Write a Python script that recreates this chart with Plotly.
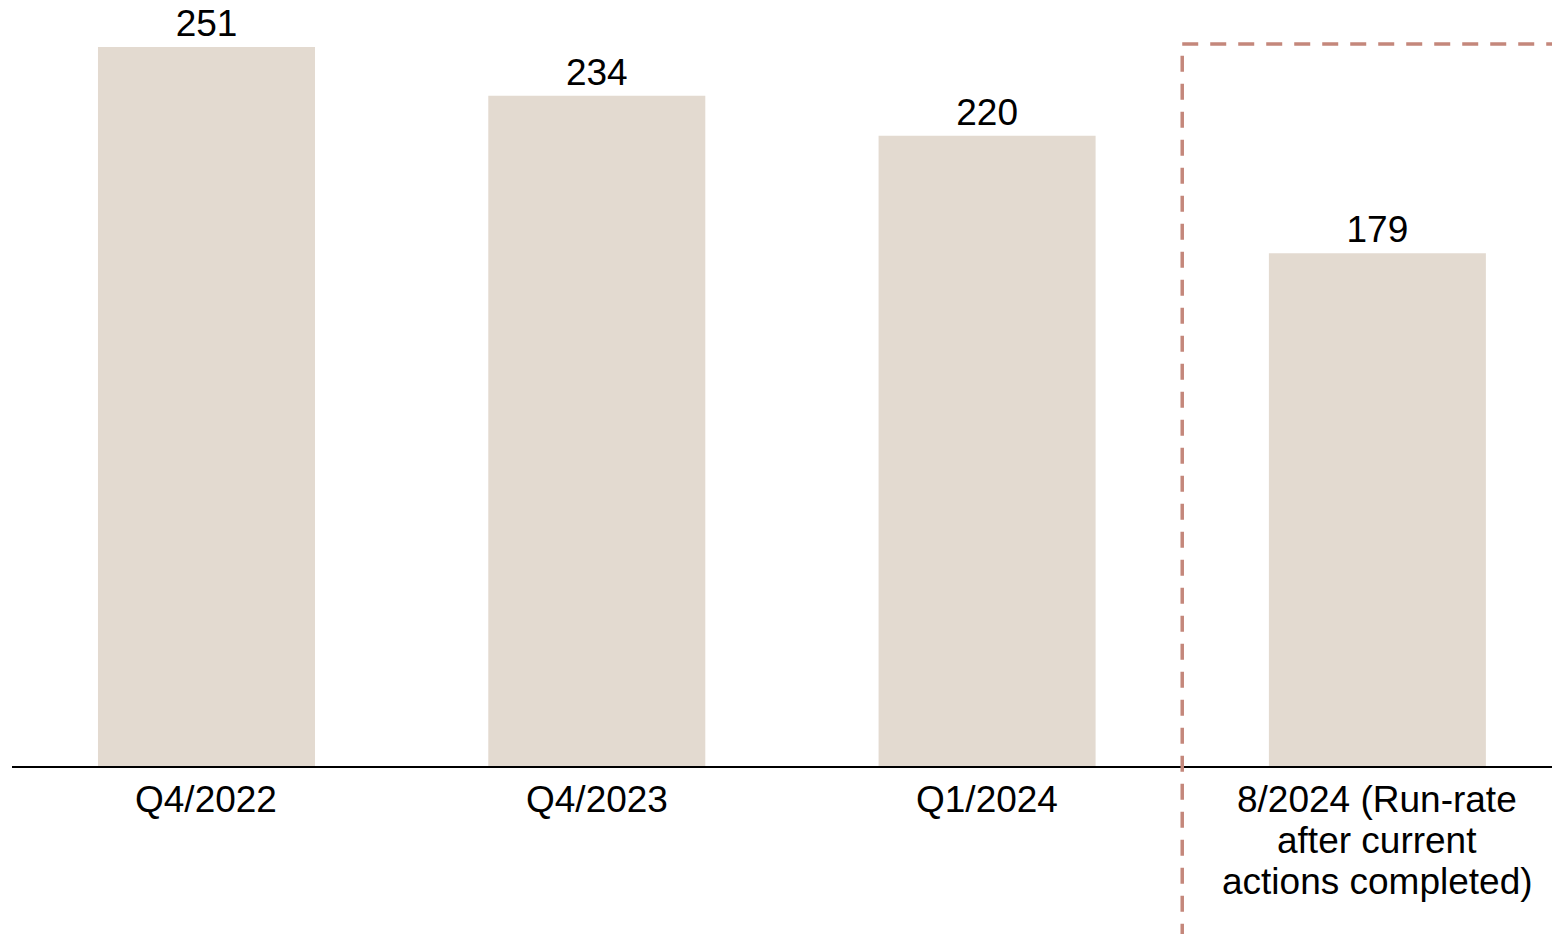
import plotly.graph_objects as go

# Data
categories = ["Q4/2022", "Q4/2023", "Q1/2024", "8/2024 (Run-rate\nafter current\nactions completed)"]
values = [251, 234, 220, 179]

bar_color = "#E3DAD0"
dash_color = "#C4877B"
font_family = "Liberation Sans, Arial, sans-serif"
font_size = 37

y_max = 267.4
box_top = 252          # top edge of the highlight box, in data units
box_left = 2.5         # between the third and fourth category

fig = go.Figure()
fig.add_trace(go.Bar(
    x=list(range(len(categories))),
    y=values,
    width=0.556,
    marker=dict(color=bar_color, line=dict(width=0)),
    text=[str(v) for v in values],
    textposition="outside",
    textfont=dict(family=font_family, size=font_size, color="#000000"),
    cliponaxis=False,
    hoverinfo="skip",
))

# Category labels, one annotation per line for tighter line spacing
line_gap = 41
annotations = []
for i, label in enumerate(categories):
    for j, part in enumerate(label.split("\n")):
        annotations.append(dict(
            x=i, xref="x", y=0, yref="paper",
            text=part, showarrow=False,
            xanchor="center", yanchor="top",
            yshift=-11 - j * line_gap,
            font=dict(family=font_family, size=font_size, color="#000000"),
        ))

shapes = [
    # dashed highlight box: left edge and top edge
    dict(type="line", xref="x", yref="paper",
         x0=box_left, x1=box_left, y0=-0.3, y1=box_top / y_max,
         line=dict(color=dash_color, width=3.5, dash="16px,12px")),
    dict(type="line", xref="x", yref="y",
         x0=box_left, x1=4.0, y0=box_top, y1=box_top,
         line=dict(color=dash_color, width=3.5, dash="16px,12px")),
]

fig.update_layout(
    width=1552, height=934,
    margin=dict(l=12, r=0, t=0, b=168, pad=0),
    paper_bgcolor="#FFFFFF", plot_bgcolor="#FFFFFF",
    showlegend=False,
    annotations=annotations,
    shapes=shapes,
    xaxis=dict(
        range=[-0.4983, 3.4474],
        showgrid=False, zeroline=False,
        showticklabels=False, ticks="",
        showline=True, linecolor="#000000", linewidth=2,
    ),
    yaxis=dict(
        range=[0, y_max],
        showgrid=False, zeroline=False,
        showticklabels=False, ticks="", showline=False,
    ),
)

fig.write_html("out.html")
